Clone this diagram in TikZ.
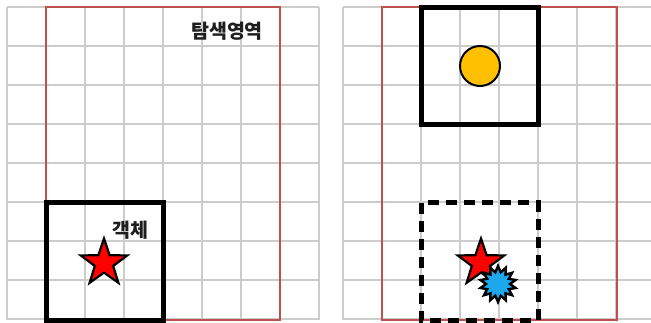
\documentclass[tikz,border=0pt]{standalone}
\usepackage{fontspec}
\newfontfamily\kr{Noto Sans CJK KR}
\usetikzlibrary{shapes.geometric}
\definecolor{gridgray}{HTML}{CCCCCC}
\definecolor{areared}{HTML}{C0504D}
\definecolor{objred}{HTML}{FF0000}
\definecolor{ballyellow}{HTML}{FFC000}
\definecolor{burstblue}{HTML}{1CA8EC}
\tikzset{
  gridline/.style={draw=gridgray, line width=1.5pt},
  area/.style={draw=areared, line width=2.2pt},
  boxline/.style={draw=black, line width=5pt},
  boxdash/.style={draw=black, line width=5pt, dash pattern=on 11pt off 7pt},
  objstar/.style={star, star points=5, star point ratio=2.55, minimum size=49pt, inner sep=0pt, fill=objred, draw=black, line width=2.2pt},
  burst/.style={star, star points=14, star point ratio=1.5, minimum size=36pt, inner sep=0pt, fill=burstblue, draw=black, line width=2.4pt},
  ball/.style={circle, minimum size=40pt, inner sep=0pt, fill=ballyellow, draw=black, line width=2pt},
  label/.style={font=\kr\bfseries\fontsize{19.5}{19.5}\selectfont, inner sep=0pt, text=black!88}
}
\begin{document}
\begin{tikzpicture}[x=1pt,y=-1pt]
\useasboundingbox (0,0) rectangle (651,323);
\fill[white] (0,0) rectangle (651,323);
% grids
\foreach \i in {0,...,8} {
  \draw[gridline] (7+39*\i,7) -- (7+39*\i,320);
  \draw[gridline] (7,7+39*\i) -- (319,7+39*\i);
}
\foreach \i in {0,...,8} {
  \draw[gridline] (343+39*\i,7) -- (343+39*\i,320);
  \draw[gridline] (343,7+39*\i) -- (651,7+39*\i);
}
% search areas
\draw[area] (46,7) rectangle (280,320);
\draw[area] (382,7) rectangle (617,320);
% left panel
\draw[boxline] (46,203) rectangle (163,320);
\node[objstar] (starL) at (104,263) {};
\node[label] (obj) at (130,230) {객체};
\node[label] (area) at (227,31) {탐색영역};
% right panel
\draw[boxline] (421,8) rectangle (538,125);
\node[ball] (ball) at (480,66) {};
\draw[boxdash] (421,203) rectangle (538,320);
\node[objstar] (starR) at (481,263) {};
\node[burst] (burst) at (498,284) {};
\end{tikzpicture}
\end{document}
